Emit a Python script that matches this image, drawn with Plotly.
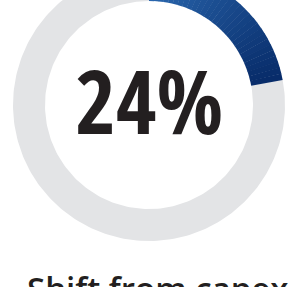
import numpy as np
import plotly.graph_objects as go

# ---- data ----
labels = ["Shift from capex", "Other"]
arc_values = [22, 78]          # arc as read from the ring
headline = "24%"
caption = "Shift from capex"

# ---- style ----
W, H = 288, 287
cx, cy = 149, 105
R_out, R_in = 136, 104
gray = "#e3e4e6"
blue_top = np.array([0x2a, 0x66, 0xae])
blue_end = np.array([0x08, 0x2c, 0x6a])

def ring_segment(a0, a1, n=60):
    t = np.linspace(a0, a1, n)
    xo = cx + R_out * np.sin(t)
    yo = cy - R_out * np.cos(t)
    xi = cx + R_in * np.sin(t[::-1])
    yi = cy - R_in * np.cos(t[::-1])
    return np.r_[xo, xi, xo[0]], np.r_[yo, yi, yo[0]]

fig = go.Figure()
total = sum(arc_values)
fr = np.cumsum([0] + arc_values) / total * 2 * np.pi

x, y = ring_segment(fr[1], fr[2], 200)
fig.add_trace(go.Scatter(x=x, y=y, fill="toself", fillcolor=gray,
                         line=dict(width=0, color=gray), mode="lines",
                         hoverinfo="skip", showlegend=False))
nseg = 30
edges = np.linspace(fr[0], fr[1], nseg + 1)
for i in range(nseg):
    c = blue_top + (blue_end - blue_top) * (i / (nseg - 1))
    col = "rgb(%d,%d,%d)" % tuple(c.astype(int))
    x, y = ring_segment(edges[i], edges[i + 1] + 0.003, 8)
    fig.add_trace(go.Scatter(x=x, y=y, fill="toself", fillcolor=col,
                             line=dict(width=0, color=col), mode="lines",
                             hoverinfo="skip", showlegend=False))

fig.add_annotation(x=cx, y=100, text="<b>%s</b>" % headline, showarrow=False,
                   xanchor="center", yanchor="middle",
                   font=dict(family="Open Sans Condensed", size=88, color="#231f20"))
fig.add_annotation(x=25, y=264, text=caption, showarrow=False,
                   xanchor="left", yanchor="top",
                   font=dict(family="Open Sans", size=33, color="#231f20", weight=600))

fig.update_layout(
    width=W, height=H, margin=dict(l=0, r=0, t=0, b=0),
    paper_bgcolor="white", plot_bgcolor="white",
    xaxis=dict(range=[0, W], visible=False, fixedrange=True),
    yaxis=dict(range=[H, 0], visible=False, fixedrange=True),
)
fig.write_html("out.html", config={"displayModeBar": False, "staticPlot": True},
               post_script="document.body.style.margin='0px';document.body.style.overflow='hidden';")
